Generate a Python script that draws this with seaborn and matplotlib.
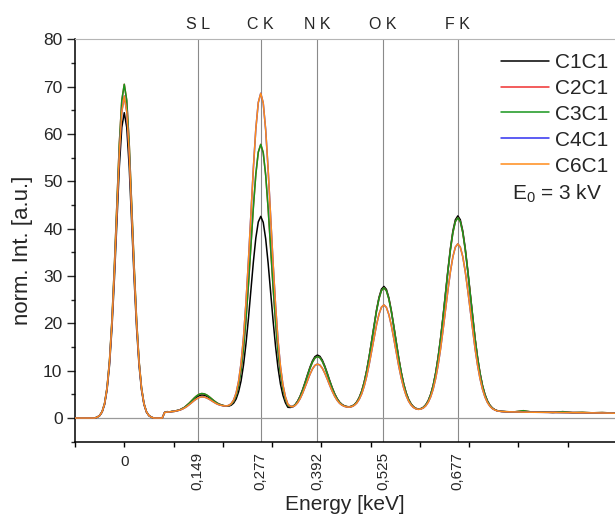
import matplotlib
matplotlib.use('Agg')
import matplotlib.pyplot as plt
import matplotlib.transforms as mtransforms
from matplotlib.ticker import FixedLocator, MultipleLocator
import seaborn as sns
import pandas as pd

# ---------------- data ----------------
energy_kev = [
    -0.1, -0.08, -0.06, -0.055, -0.05, -0.045, -0.04, -0.035, -0.03, -0.025,
    -0.02, -0.015, -0.01, -0.005, 0.0, 0.005, 0.01, 0.015, 0.02, 0.025,
    0.03, 0.035, 0.04, 0.045, 0.05, 0.055, 0.06, 0.07, 0.077,
    0.082, 0.087, 0.092, 0.097, 0.102, 0.107, 0.112, 0.117, 0.122, 0.127,
    0.132, 0.137, 0.142, 0.147, 0.152, 0.157, 0.162, 0.167, 0.172, 0.177,
    0.182, 0.187, 0.192, 0.197, 0.202, 0.207, 0.212, 0.217, 0.222, 0.227,
    0.232, 0.237, 0.242, 0.247, 0.252, 0.257, 0.262, 0.267, 0.272, 0.277,
    0.282, 0.287, 0.292, 0.297, 0.302, 0.307, 0.312, 0.317, 0.322, 0.327,
    0.332, 0.337, 0.342, 0.347, 0.352, 0.357, 0.362, 0.367, 0.372, 0.377,
    0.382, 0.387, 0.392, 0.397, 0.402, 0.407, 0.412, 0.417, 0.422, 0.427,
    0.432, 0.437, 0.442, 0.447, 0.452, 0.457, 0.462, 0.467, 0.472, 0.477,
    0.482, 0.487, 0.492, 0.497, 0.502, 0.507, 0.512, 0.517, 0.522, 0.527,
    0.532, 0.537, 0.542, 0.547, 0.552, 0.557, 0.562, 0.567, 0.572, 0.577,
    0.582, 0.587, 0.592, 0.597, 0.602, 0.607, 0.612, 0.617, 0.622, 0.627,
    0.632, 0.637, 0.642, 0.647, 0.652, 0.657, 0.662, 0.667, 0.672, 0.677,
    0.682, 0.687, 0.692, 0.697, 0.702, 0.707, 0.712, 0.717, 0.722, 0.727,
    0.732, 0.737, 0.742, 0.747, 0.752, 0.757,
    0.765, 0.775, 0.79, 0.81, 0.83, 0.85, 0.87, 0.89, 0.91, 0.93,
    0.95, 0.97, 0.99, 1.0,
]

c1c1 = [
    0, 0, 0, 0.17, 0.49, 1.24, 2.83, 5.9, 11.1, 19.0,
    29.5, 41.5, 53.1, 61.4, 64.5, 61.4, 53.1, 41.5, 29.5, 19.0,
    11.1, 5.9, 2.83, 1.24, 0.49, 0.17, 0, 0, 0,
    1.20, 1.25, 1.30, 1.36, 1.44, 1.54, 1.70, 1.91, 2.20, 2.58,
    3.02, 3.52, 4.00, 4.43, 4.73, 4.87, 4.83, 4.63, 4.30, 3.92,
    3.52, 3.18, 2.90, 2.72, 2.59, 2.49, 2.52, 2.71, 3.16, 4.02,
    5.52, 7.82, 11.19, 15.65, 21.02, 27.00, 32.94, 38.02, 41.42, 42.60,
    41.34, 37.86, 32.70, 26.69, 20.62, 15.18, 10.64, 7.19, 4.81, 3.24,
    2.27, 2.23, 2.37, 2.83, 3.59, 4.65, 6.00, 7.55, 9.20, 10.77,
    12.08, 12.97, 13.30, 13.04, 12.22, 10.98, 9.49, 7.90, 6.43, 5.14,
    4.11, 3.35, 2.85, 2.55, 2.40, 2.37, 2.50, 2.83, 3.41, 4.36,
    5.72, 7.60, 10.04, 12.96, 16.26, 19.66, 22.85, 25.49, 27.22, 27.80,
    27.18, 25.41, 22.73, 19.49, 16.05, 12.71, 9.75, 7.27, 5.35, 3.95,
    2.99, 2.37, 2.03, 1.90, 1.98, 2.26, 2.80, 3.68, 5.03, 6.92,
    9.53, 12.84, 16.85, 21.48, 26.45, 31.38, 35.89, 39.52, 41.88, 42.70,
    41.89, 39.54, 35.91, 31.41, 26.49, 21.51, 16.86, 12.84, 9.52, 6.90,
    4.99, 3.63, 2.71, 2.12, 1.76, 1.55,
    1.40, 1.33, 1.30, 1.27, 1.25, 1.22, 1.20, 1.18, 1.15, 1.12,
    1.10, 1.08, 1.05, 1.02,
]

c3c1 = [
    0, 0, 0, 0.19, 0.54, 1.35, 3.09, 6.44, 12.1, 20.8,
    32.3, 45.4, 58.0, 67.1, 70.5, 67.1, 58.0, 45.4, 32.3, 20.8,
    12.1, 6.44, 3.09, 1.35, 0.54, 0.19, 0, 0, 0,
    1.20, 1.35, 1.28, 1.42, 1.40, 1.60, 1.68, 1.98, 2.25, 2.70,
    3.16, 3.70, 4.23, 4.69, 5.02, 5.17, 5.12, 4.89, 4.53, 4.10,
    3.66, 3.28, 2.97, 2.78, 2.62, 2.55, 2.61, 2.90, 3.55, 4.75,
    6.82, 10.00, 14.62, 20.75, 28.13, 36.34, 44.51, 51.48, 56.16, 57.80,
    56.08, 51.32, 44.27, 36.03, 27.73, 20.28, 14.07, 9.37, 6.11, 3.97,
    2.66, 2.41, 2.44, 2.83, 3.55, 4.56, 5.88, 7.39, 9.00, 10.53,
    11.81, 12.68, 13.00, 12.75, 11.95, 10.74, 9.29, 7.74, 6.31, 5.05,
    4.06, 3.31, 2.83, 2.54, 2.40, 2.37, 2.49, 2.82, 3.39, 4.33,
    5.67, 7.54, 9.94, 12.84, 16.09, 19.45, 22.61, 25.22, 26.93, 27.50,
    26.89, 25.14, 22.49, 19.28, 15.88, 12.59, 9.65, 7.21, 5.30, 3.92,
    2.97, 2.36, 2.02, 1.90, 1.98, 2.25, 2.79, 3.66, 4.99, 6.87,
    9.45, 12.73, 16.70, 21.29, 26.21, 31.09, 35.56, 39.16, 41.49, 42.30,
    41.50, 39.18, 35.58, 31.12, 26.25, 21.32, 16.71, 12.73, 9.44, 6.85,
    4.95, 3.61, 2.70, 2.11, 1.76, 1.55,
    1.42, 1.35, 1.28, 1.55, 1.22, 1.28, 1.18, 1.35, 1.14, 1.20,
    1.10, 1.16, 1.06, 1.05,
]

c6c1 = [
    0, 0, 0, 0.18, 0.52, 1.31, 2.99, 6.22, 11.7, 20.1,
    31.1, 43.8, 56.0, 64.7, 68.0, 64.7, 56.0, 43.8, 31.1, 20.1,
    11.7, 6.22, 2.99, 1.31, 0.52, 0.18, 0, 0, 0,
    1.20, 1.25, 1.30, 1.35, 1.43, 1.53, 1.66, 1.85, 2.11, 2.44,
    2.84, 3.27, 3.70, 4.07, 4.34, 4.47, 4.44, 4.27, 4.00, 3.67,
    3.34, 3.04, 2.81, 2.67, 2.57, 2.55, 2.66, 3.03, 3.82, 5.27,
    7.75, 11.54, 17.06, 24.38, 33.19, 42.99, 52.73, 61.05, 66.64, 68.60,
    66.56, 60.89, 52.49, 42.68, 32.79, 23.91, 16.51, 10.91, 7.04, 4.49,
    2.93, 2.48, 2.38, 2.67, 3.25, 4.11, 5.25, 6.56, 7.94, 9.26,
    10.37, 11.12, 11.40, 11.19, 10.51, 9.47, 8.23, 6.91, 5.68, 4.60,
    3.75, 3.12, 2.71, 2.46, 2.34, 2.30, 2.42, 2.70, 3.18, 3.99,
    5.14, 6.74, 8.81, 11.30, 14.10, 16.99, 19.70, 21.94, 23.41, 23.90,
    23.37, 21.86, 19.58, 16.82, 13.89, 11.05, 8.52, 6.41, 4.77, 3.58,
    2.76, 2.23, 1.94, 1.83, 1.90, 2.13, 2.59, 3.35, 4.50, 6.13,
    8.36, 11.20, 14.64, 18.61, 22.87, 27.10, 30.97, 34.08, 36.10, 36.80,
    36.11, 34.10, 30.99, 27.13, 22.91, 18.64, 14.65, 11.20, 8.35, 6.11,
    4.46, 3.30, 2.51, 2.00, 1.70, 1.51,
    1.38, 1.32, 1.28, 1.25, 1.22, 1.20, 1.18, 1.16, 1.13, 1.10,
    1.08, 1.06, 1.04, 1.00,
]

# C2C1 and C4C1 are not distinguishable in the picture (hidden beneath C3C1 / C6C1)
c2c1 = list(c3c1)
c4c1 = list(c6c1)

series_names = ['C1C1', 'C2C1', 'C3C1', 'C4C1', 'C6C1']
series_values = [c1c1, c2c1, c3c1, c4c1, c6c1]
series_colors = ['#000000', '#f03030', '#17961c', '#3030f0', '#ff8c1a']

line_energies = [0.149, 0.277, 0.392, 0.525, 0.677]
line_names = ['S L', 'C K', 'N K', 'O K', 'F K']
line_tick_labels = ['0,149', '0,277', '0,392', '0,525', '0,677']

major_xticks = [-0.1, 0.0, 0.1, 0.2, 0.3, 0.4, 0.5, 0.6, 0.7, 0.8, 0.9]
major_xlabels = ['', '0', '', '', '', '', '', '', '', '', '']
yticks = [0, 10, 20, 30, 40, 50, 60, 70, 80]
beam_label = 'E$_0$ = 3 kV'

# ---------------- style ----------------
sns.set_style('ticks')
plt.rcParams['font.family'] = ['Liberation Sans', 'DejaVu Sans']
plt.rcParams['mathtext.default'] = 'regular'

rows = []
for name, vals in zip(series_names, series_values):
    for e, v in zip(energy_kev, vals):
        rows.append({'Energy': e, 'Intensity': v, 'Sample': name})
df = pd.DataFrame(rows)

fig = plt.figure(figsize=(6.15, 5.15), dpi=100)
ax = fig.add_axes([75 / 615, 1 - 441.7 / 515, 540 / 615, 402.4 / 515])

for e in line_energies:
    ax.axvline(e, color='#8a8a8a', lw=0.8, zorder=1)
ax.axhline(0, color='#9a9a9a', lw=0.9, zorder=1)

sns.lineplot(data=df, x='Energy', y='Intensity', hue='Sample',
             hue_order=series_names, palette=series_colors,
             estimator=None, sort=False, lw=1.1, ax=ax, legend=True, zorder=3)

ax.set_xlim(-0.1, 0.996)
ax.set_ylim(-5, 80)

# x axis: regular ticks + custom labels at the element lines
ax.xaxis.set_major_locator(FixedLocator(major_xticks))
ax.set_xticklabels(major_xlabels, fontsize=11)
ax.set_xticks(line_energies, minor=True)
ax.set_xticklabels(line_tick_labels, minor=True, rotation=90, fontsize=11)
ax.tick_params(axis='x', which='major', length=3.6, width=1.0, pad=6, color='black')
ax.tick_params(axis='x', which='minor', length=0, pad=7.2)

ax.set_yticks(yticks)
ax.yaxis.set_minor_locator(MultipleLocator(5))
ax.tick_params(axis='y', which='major', length=5.8, width=1.0, labelsize=12.5, pad=3.2)
ax.tick_params(axis='y', which='minor', length=2.9, width=1.0)

for s in ['left', 'bottom']:
    ax.spines[s].set_color('black')
    ax.spines[s].set_linewidth(1.1)
ax.spines['right'].set_visible(False)
ax.spines['top'].set_color('#b5b5b5')
ax.spines['top'].set_linewidth(0.8)

ax.set_xlabel('Energy [keV]', fontsize=15)
ax.xaxis.set_label_coords(0.5, -0.1325)
ax.set_ylabel('norm. Int. [a.u.]', fontsize=16)
ax.yaxis.set_label_coords(-0.078, 0.476)

trans = mtransforms.blended_transform_factory(ax.transData, ax.transAxes)
for e, name in zip(line_energies, line_names):
    ax.text(e, 1.036, name, transform=trans, ha='center', va='center', fontsize=11.5)

handles, labels = ax.get_legend_handles_labels()
leg = ax.legend(handles, labels, loc='upper right', bbox_to_anchor=(608 / 615, 1 - 53 / 515),
                bbox_transform=fig.transFigure, frameon=False, fontsize=15,
                handlelength=2.3, handletextpad=0.3, labelspacing=0.33,
                borderpad=0, borderaxespad=0)
for h in leg.get_lines():
    h.set_linewidth(1.1)

fig.text(512 / 615, 1 - 194 / 515, beam_label, fontsize=15, ha='left', va='center')

fig.savefig('out.png', dpi=100)
